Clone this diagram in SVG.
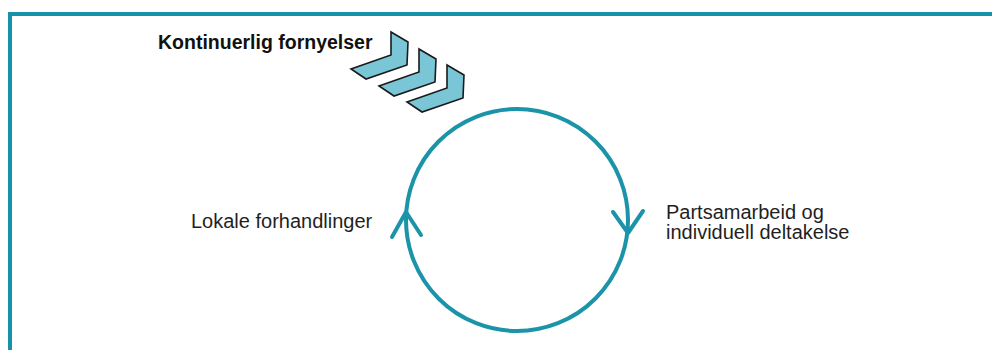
<svg xmlns="http://www.w3.org/2000/svg" width="992" height="350" viewBox="0 0 992 350">
<style>
.frame{fill:none;stroke:#1693ab;stroke-width:4}
.cyc{fill:none;stroke:#1b93a8;stroke-width:4;stroke-linecap:round;stroke-linejoin:round}
.chev{fill:#7ac6d6;stroke:#1a1a1a;stroke-width:1.6;stroke-linejoin:miter}
.lbl{font-family:"Liberation Sans","Noto Sans",sans-serif;font-size:20px;fill:#1f1f1f}
.title{font-family:"Liberation Sans","Noto Sans",sans-serif;font-size:19.5px;font-weight:bold;fill:#111}
</style>
<defs>
<polygon id="chevron" points="391,32 408,42 407,65 366,79 351,69 391,55"/>
</defs>
<rect width="992" height="350" fill="#fff"/>
<path class="frame" d="M10,352 V14 H994"/>
<g id="title"><text class="title" x="158" y="49">Kontinuerlig fornyelser</text></g>
<g id="chevrons">
<use href="#chevron" class="chev"/>
<use href="#chevron" class="chev" transform="translate(28,17)"/>
<use href="#chevron" class="chev" transform="translate(56,33)"/>
</g>
<g id="connectors">
<circle class="cyc" cx="517" cy="220" r="111"/>
<path class="cyc" d="M392,237 L406,212 L421,235"/>
<path class="cyc" d="M613,212 L628,233 L643,211"/>
</g>
<g id="node-left"><text class="lbl" x="191" y="228">Lokale forhandlinger</text></g>
<g id="node-right"><text class="lbl" x="666" y="219">Partsamarbeid og</text><text class="lbl" x="666" y="239">individuell deltakelse</text></g>
</svg>
